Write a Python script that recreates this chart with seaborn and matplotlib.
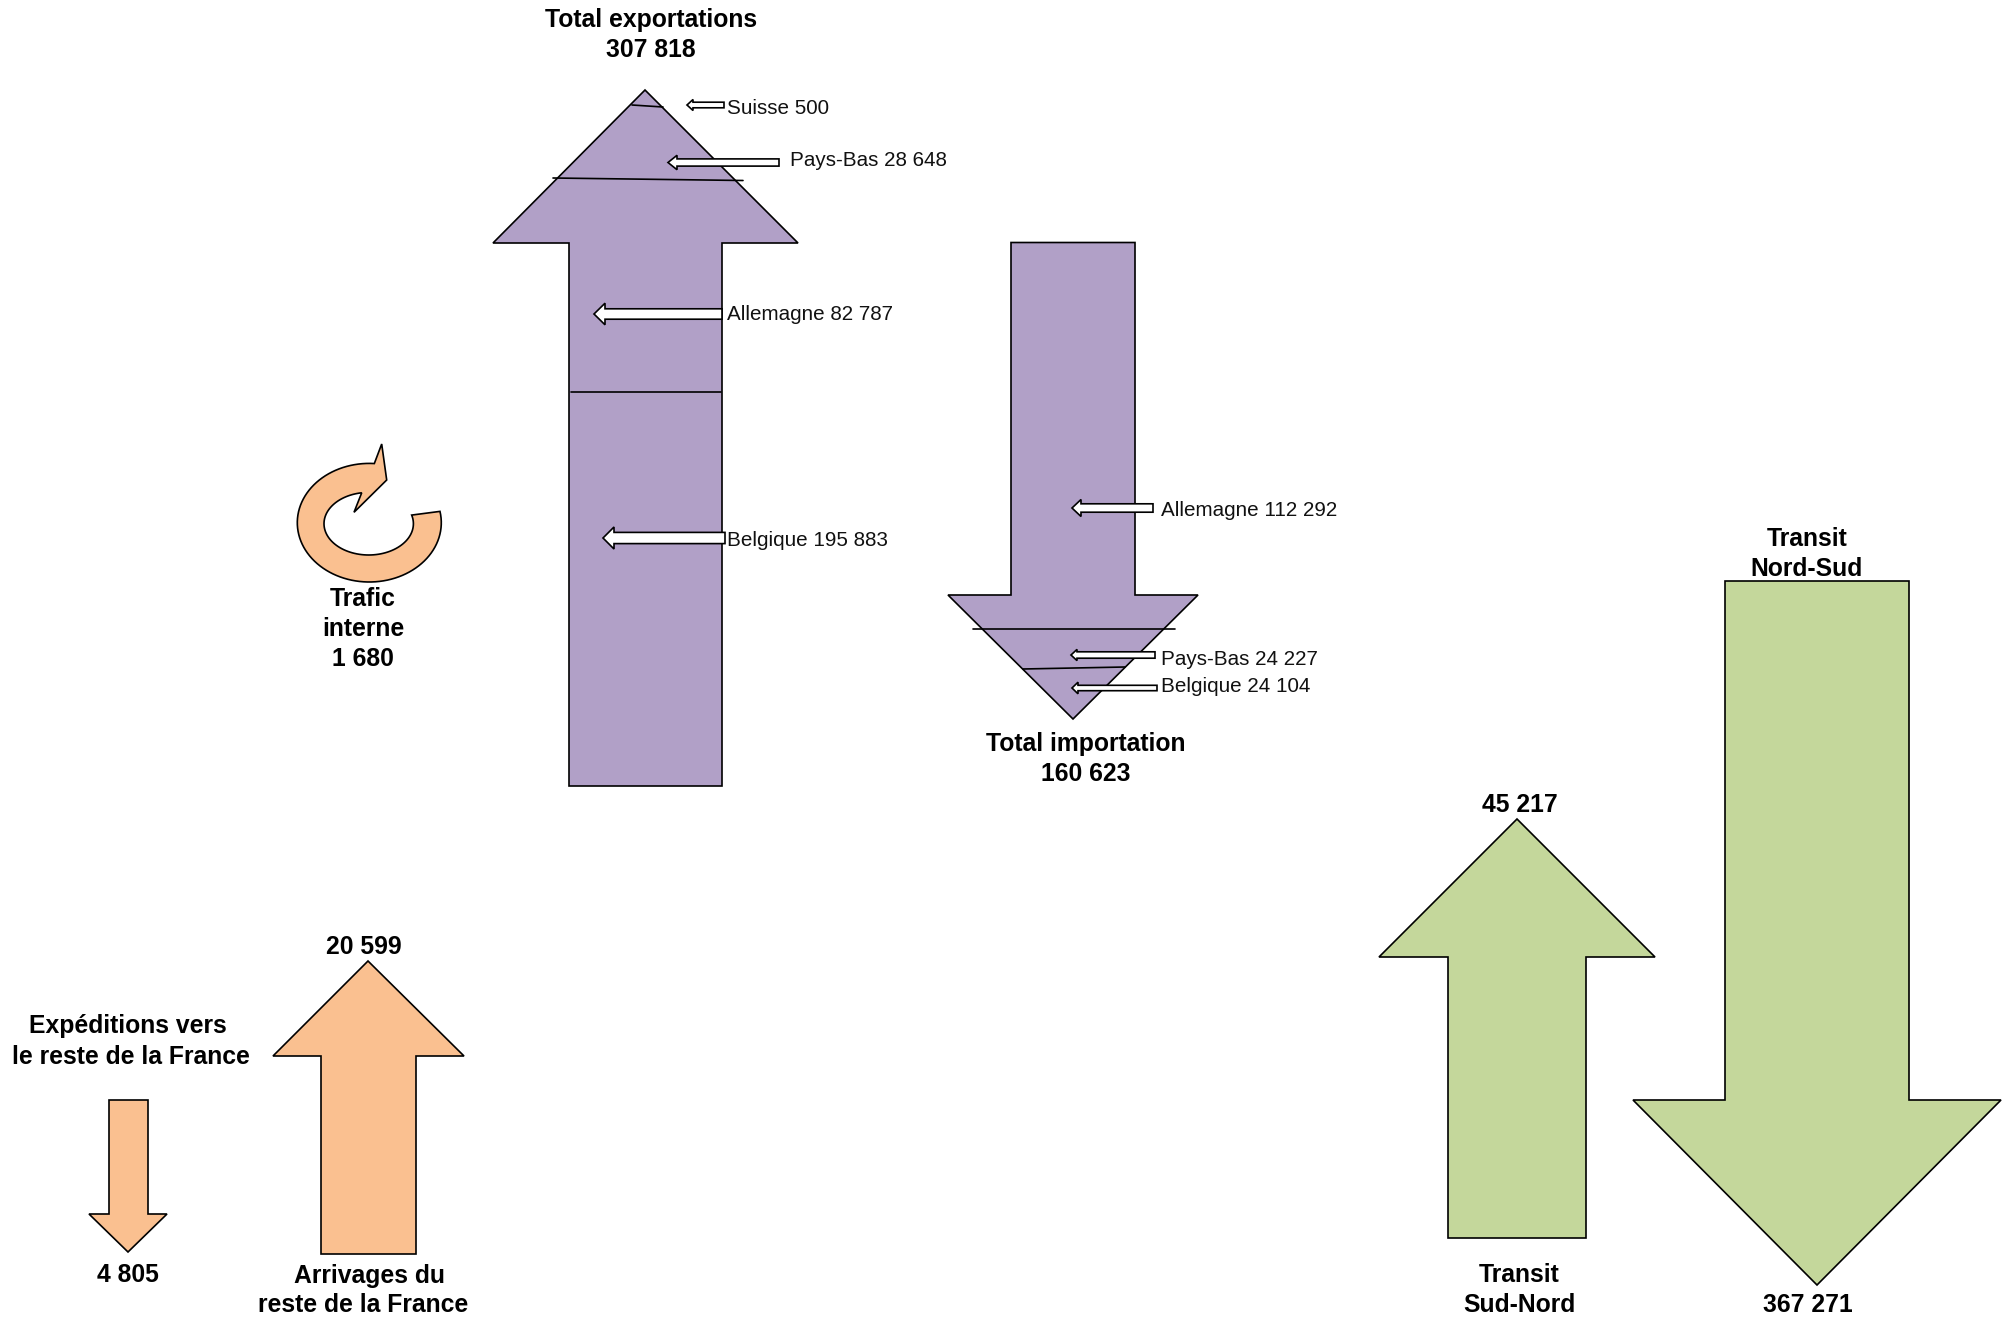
import matplotlib
matplotlib.use("Agg")
import matplotlib.pyplot as plt
import numpy as np
import seaborn as sns

sns.set_theme(style="white")
plt.rcParams['font.family'] = ['Liberation Sans', 'DejaVu Sans']

# ---- data ----
export_countries = ["Suisse", "Pays-Bas", "Allemagne", "Belgique"]
export_values = [500, 28648, 82787, 195883]
export_total = 307818
import_countries = ["Allemagne", "Pays-Bas", "Belgique"]
import_values = [112292, 24227, 24104]
import_total = 160623
internal_traffic = 1680
shipments_france = 4805
arrivals_france = 20599
transit_south_north = 45217
transit_north_south = 367271

PURPLE, ORANGE, GREEN = sns.color_palette(["#B1A0C7", "#FAC090", "#C4D79B"])
W, H = 2011, 1317
LW = 1.2


def fmt(v):
    return f"{v:,}".replace(",", " ")


fig = plt.figure(figsize=(W / 100, H / 100), dpi=100, facecolor="white")
ax = fig.add_axes([0, 0, 1, 1])
ax.set_xlim(0, W)
ax.set_ylim(H, 0)


def arrow(x_tip, y_tip, y_head, x_hl, x_hr, x_sl, x_sr, y_end, color):
    xs = [x_tip, x_hr, x_sr, x_sr, x_sl, x_sl, x_hl]
    ys = [y_tip, y_head, y_head, y_end, y_end, y_head, y_head]
    ax.fill(xs, ys, facecolor=color, edgecolor="black", lw=LW, joinstyle="miter", zorder=2)


def small(x_tip, x_base, x_end, yc, hb, hh):
    xs = [x_tip, x_base, x_base, x_end, x_end, x_base, x_base]
    ys = [yc, yc - hh, yc - hb, yc - hb, yc + hb, yc + hb, yc + hh]
    ax.fill(xs, ys, facecolor="white", edgecolor="black", lw=LW, joinstyle="miter", zorder=4)


def divider(x0, y0, x1, y1):
    sns.lineplot(x=[x0, x1], y=[y0, y1], ax=ax, color="black", lw=LW, sort=False,
                 estimator=None, zorder=3)


def bold(x, y, lines, step=30.5):
    for i, s in enumerate(lines):
        ax.text(x, y + i * step + 8.5, s, ha="center", va="baseline", fontsize=17.8,
                fontweight="bold", color="black", zorder=5)


def reg(x, y, s):
    ax.text(x, y + 7.5, s, ha="left", va="baseline", fontsize=14.9, color="#111111", zorder=5)


# main purple arrows
arrow(645, 90, 243, 493, 798, 569, 722, 786, PURPLE)
arrow(1073, 719, 595, 948, 1198, 1011, 1135, 242.5, PURPLE)
# orange
arrow(128, 1252, 1214, 89, 167, 109, 148, 1100, ORANGE)
arrow(368, 961, 1056, 273, 464, 321, 416, 1254, ORANGE)
# green
arrow(1517, 819, 957, 1379, 1655, 1448, 1586, 1238, GREEN)
arrow(1817, 1285, 1100, 1633, 2001, 1725, 1909, 581, GREEN)

# dividers
divider(632, 105, 663, 107)
divider(553, 178, 743, 180.5)
divider(571, 392, 721, 392)
divider(973, 629, 1175, 629)
divider(1023, 669, 1125, 667)

# small arrows (exports)
small(687, 693, 724, 105, 2.8, 5.5)
small(668, 677, 779, 162.5, 3.6, 7.2)
small(594, 605, 722, 314, 5.2, 10.8)
small(603, 614, 725, 538, 5.6, 11)
# small arrows (imports)
small(1072, 1081, 1153, 508, 4.2, 8.5)
small(1071, 1077, 1155, 655, 3.2, 5.6)
small(1072, 1078, 1157, 688, 2.7, 5.8)

# circular arrow (trafic interne): outer and inner elliptical arcs joined by the head
ta = np.radians(np.linspace(11, -274, 90))
tb = np.radians(np.linspace(-261, 16, 90))
outer_x = 369.3 + 72 * np.cos(ta)
outer_y = 522.7 - 59.3 * np.sin(ta)
inner_x = 368.7 + 44.7 * np.cos(tb)
inner_y = 523.7 - 31.3 * np.sin(tb)
cx = np.r_[outer_x, 381.7, 386.7, 354, inner_x]
cy = np.r_[outer_y, 444, 480, 512.3, inner_y]
ax.fill(cx, cy, facecolor=ORANGE, edgecolor="black", lw=LW, joinstyle="miter", zorder=2)

# bold labels
bold(651, 18, ["Total exportations", fmt(export_total)])
bold(1086, 742, ["Total importation", fmt(import_total)])
bold(363, 597, ["Trafic", "interne", fmt(internal_traffic)])
bold(128, 1025, ["Expéditions vers"])
bold(131, 1056, ["le reste de la France"])
bold(128, 1274, [fmt(shipments_france)])
bold(363.5, 945, [fmt(arrivals_france)])
bold(370, 1275, ["Arrivages du"])
bold(363, 1304, ["reste de la France"])
bold(1519.5, 803, [fmt(transit_south_north)])
bold(1519, 1274, ["Transit", "Sud-Nord"], step=29.5)
bold(1808, 1304, [fmt(transit_north_south)])
bold(1807, 537, ["Transit", "Nord-Sud"])

# regular labels
for (x, y), name, val in zip([(727, 107), (790, 159), (727, 312), (727, 538)],
                             export_countries, export_values):
    reg(x, y, f"{name} {fmt(val)}")
for (x, y), name, val in zip([(1161, 508), (1161, 657.5), (1161, 684)],
                             import_countries, import_values):
    reg(x, y, f"{name} {fmt(val)}")

ax.set_xlim(0, W)
ax.set_ylim(H, 0)
ax.axis("off")
fig.savefig("out.png", dpi=100, facecolor="white")
